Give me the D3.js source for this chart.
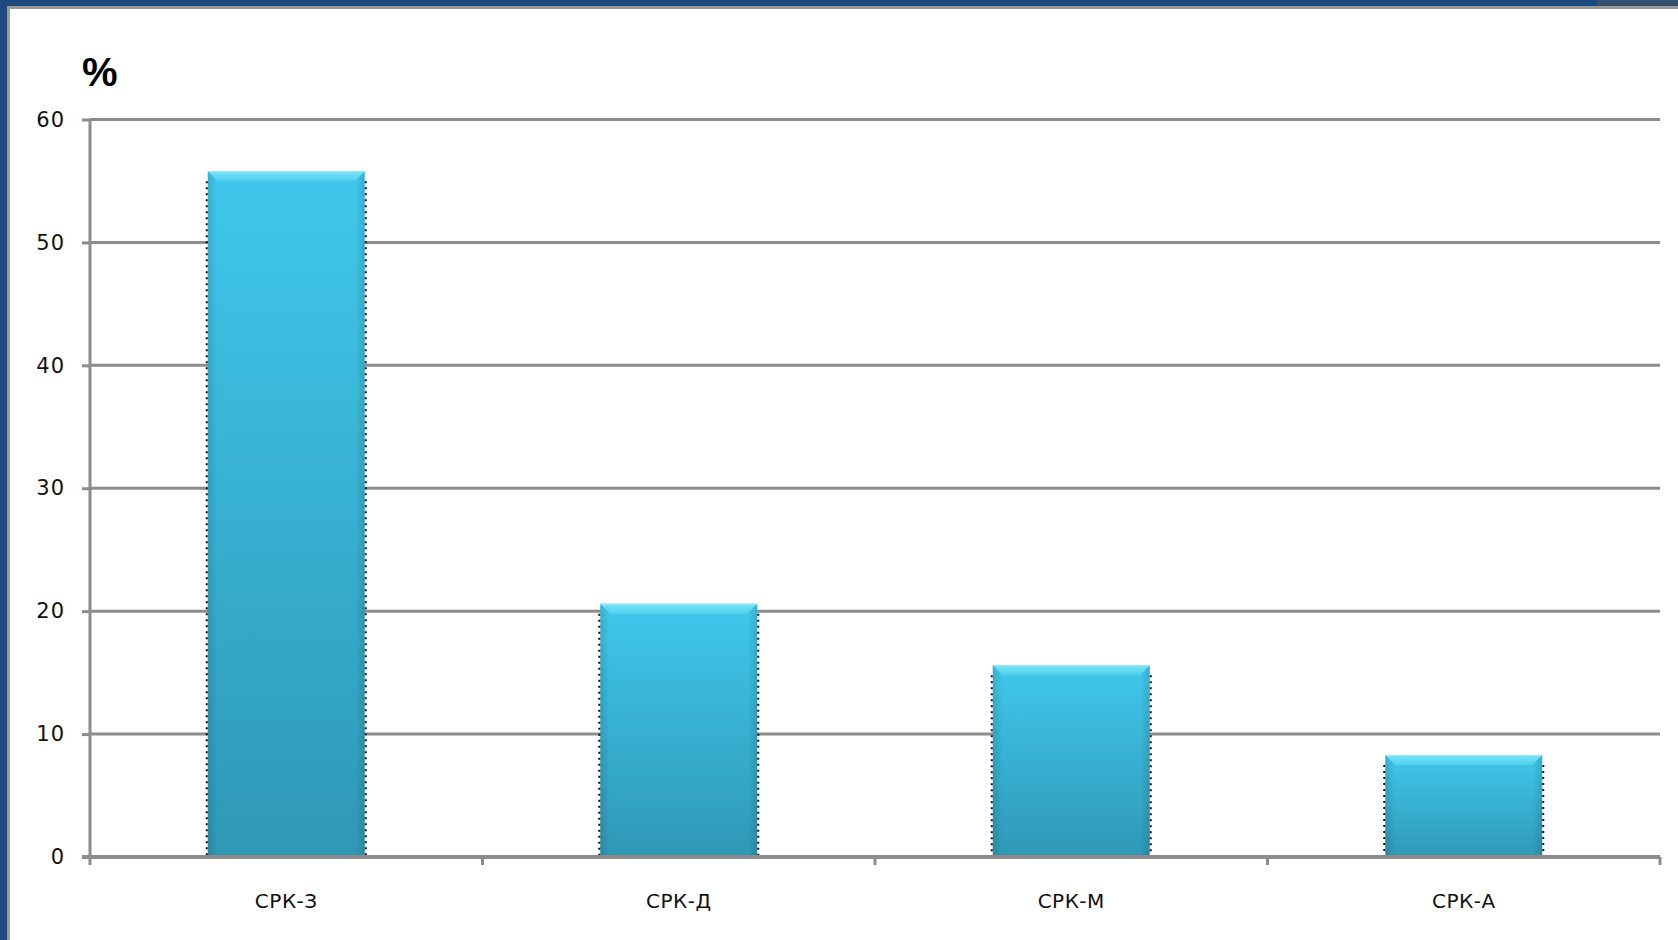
<!DOCTYPE html>
<html>
<head>
<meta charset="utf-8">
<script src="https://cdn.jsdelivr.net/npm/d3@7"></script>
<style>
  html, body { margin: 0; padding: 0; background: #fff; }
  svg { display: block; }
</style>
</head>
<body>
<div class="chart_wrapper"></div>
<script>
// chart data
const categories = ['СРК-З', 'СРК-Д', 'СРК-М', 'СРК-А']
const values = [55.8, 20.6, 15.6, 8.3]
const yTicks = [0, 10, 20, 30, 40, 50, 60]

const width = 1678
const height = 940
const margin = { left: 90, right: 18, top: 119.5, bottom: 83 }

const svg = d3.select('.chart_wrapper')
    .append('svg')
    .attr('width', width)
    .attr('height', height)

const defs = svg.append('defs')
const grad = defs.append('linearGradient')
    .attr('id', 'barGrad')
    .attr('x1', 0).attr('y1', 0).attr('x2', 0).attr('y2', 1)
grad.append('stop').attr('offset', '0%').attr('stop-color', '#3fc8ec')
grad.append('stop').attr('offset', '100%').attr('stop-color', '#2f98b6')

const sideGrad = defs.append('linearGradient')
    .attr('id', 'sideGrad')
    .attr('x1', 0).attr('y1', 0).attr('x2', 1).attr('y2', 0)
sideGrad.append('stop').attr('offset', '0%').attr('stop-color', '#000').attr('stop-opacity', 0.12)
sideGrad.append('stop').attr('offset', '6%').attr('stop-color', '#000').attr('stop-opacity', 0)
sideGrad.append('stop').attr('offset', '94%').attr('stop-color', '#000').attr('stop-opacity', 0)
sideGrad.append('stop').attr('offset', '100%').attr('stop-color', '#000').attr('stop-opacity', 0.12)

const bevelGrad = defs.append('linearGradient')
    .attr('id', 'bevelGrad')
    .attr('x1', 0).attr('y1', 0).attr('x2', 0).attr('y2', 1)
bevelGrad.append('stop').attr('offset', '0%').attr('stop-color', '#7ce4f8')
bevelGrad.append('stop').attr('offset', '100%').attr('stop-color', '#4fd0ee')

// slide frame
svg.append('rect').attr('x', 0).attr('y', 0).attr('width', width).attr('height', 7).attr('fill', '#1f4a7f')
svg.append('rect').attr('x', 1597).attr('y', 0).attr('width', width - 1597).attr('height', 6).attr('fill', '#37506e')
svg.append('rect').attr('x', 0).attr('y', 6).attr('width', width).attr('height', 3).attr('fill', '#9a9a9a')
svg.append('rect').attr('x', 0).attr('y', 0).attr('width', 7).attr('height', height).attr('fill', '#1f4a7f')
svg.append('rect').attr('x', 7).attr('y', 8).attr('width', 3).attr('height', height).attr('fill', '#9a9a9a')

const x = d3.scaleBand()
    .domain(categories)
    .range([margin.left, width - margin.right])
    .paddingInner(0.6)
    .paddingOuter(0.3)

const y = d3.scaleLinear()
    .domain([0, 60])
    .range([height - margin.bottom, margin.top])

// gridlines + y ticks
const yAxis = svg.append('g')
    .attr('transform', `translate(${margin.left},0)`)
    .call(d3.axisLeft(y).tickValues(yTicks).tickSize(8).tickPadding(17))
yAxis.select('.domain').remove()
yAxis.selectAll('line').attr('stroke', '#8c8c8c').attr('stroke-width', 3)
yAxis.selectAll('text')
    .attr('font-family', 'Verdana, "DejaVu Sans", sans-serif')
    .attr('font-size', 21)
    .attr('letter-spacing', 1)
    .attr('fill', '#111')

svg.append('g')
    .selectAll('line')
    .data(yTicks.filter(d => d > 0))
    .join('line')
    .attr('x1', margin.left)
    .attr('x2', width - margin.right)
    .attr('y1', d => y(d))
    .attr('y2', d => y(d))
    .attr('stroke', '#8c8c8c')
    .attr('stroke-width', 3)

// y axis line
svg.append('line')
    .attr('x1', margin.left).attr('x2', margin.left)
    .attr('y1', y(60)).attr('y2', y(0) + 2)
    .attr('stroke', '#8c8c8c').attr('stroke-width', 3)

// bars
const bars = svg.append('g')
    .selectAll('g')
    .data(values)
    .join('g')
    .attr('transform', (d, i) => `translate(${x(categories[i])},${y(d)})`)

bars.append('rect')
    .attr('width', x.bandwidth())
    .attr('height', d => y(0) - y(d))
    .attr('fill', 'url(#barGrad)')
bars.append('rect')
    .attr('width', x.bandwidth())
    .attr('height', d => y(0) - y(d))
    .attr('fill', 'url(#sideGrad)')
// bevel on top
bars.append('path')
    .attr('d', () => {
        const w = x.bandwidth()
        return `M0,0 L${w},0 L${w - 10},10 L10,10 Z`
    })
    .attr('fill', 'url(#bevelGrad)')
bars.append('line')
    .attr('x1', 0).attr('x2', x.bandwidth())
    .attr('y1', 0.5).attr('y2', 0.5)
    .attr('stroke', '#9aeafa').attr('stroke-width', 1)
// dotted edges
bars.append('line')
    .attr('x1', -1).attr('x2', -1)
    .attr('y1', 10).attr('y2', d => y(0) - y(d))
    .attr('stroke', '#111').attr('stroke-width', 2).attr('stroke-dasharray', '2,4')
bars.append('line')
    .attr('x1', x.bandwidth() + 1).attr('x2', x.bandwidth() + 1)
    .attr('y1', 10).attr('y2', d => y(0) - y(d))
    .attr('stroke', '#111').attr('stroke-width', 2).attr('stroke-dasharray', '2,4')

// x axis
const step = x.step()
const boundaries = d3.range(categories.length + 1).map(i => margin.left + i * step)
svg.append('line')
    .attr('x1', margin.left - 8).attr('x2', width - margin.right)
    .attr('y1', y(0)).attr('y2', y(0))
    .attr('stroke', '#8c8c8c').attr('stroke-width', 4)
svg.append('g')
    .selectAll('line')
    .data(boundaries)
    .join('line')
    .attr('x1', d => d).attr('x2', d => d)
    .attr('y1', y(0)).attr('y2', y(0) + 8)
    .attr('stroke', '#8c8c8c').attr('stroke-width', 3)

svg.append('g')
    .selectAll('text')
    .data(categories)
    .join('text')
    .attr('x', d => x(d) + x.bandwidth() / 2)
    .attr('y', 908)
    .attr('text-anchor', 'middle')
    .attr('font-family', 'Verdana, "DejaVu Sans", sans-serif')
    .attr('font-size', 20)
    .attr('letter-spacing', 0.5)
    .attr('fill', '#111')
    .text(d => d)

// unit label
svg.append('text')
    .attr('x', 82)
    .attr('y', 86)
    .attr('font-family', 'Arial, "Liberation Sans", sans-serif')
    .attr('font-weight', 'bold')
    .attr('font-size', 40)
    .attr('fill', '#000')
    .text('%')
</script>
</body>
</html>
